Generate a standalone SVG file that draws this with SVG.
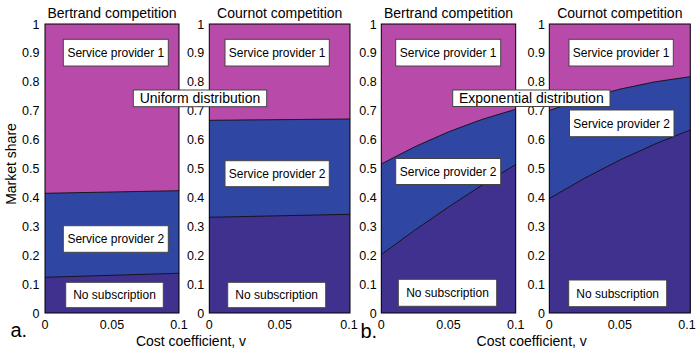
<svg xmlns="http://www.w3.org/2000/svg" width="696" height="353" viewBox="0 0 696 353">
<style>
text{font-family:"Liberation Sans",Arial,sans-serif;fill:#000}
.t{font-size:14px;text-anchor:middle}
.yt{font-size:12.5px;text-anchor:end}
.xt{font-size:12.5px;text-anchor:middle}
.lb{font-size:12px;text-anchor:middle}
.ov{font-size:14px;text-anchor:middle}
.m{fill:#B84AA9}
.b{fill:#2F46A2}
.p{fill:#41318E}
.bd{fill:none;stroke:#111;stroke-width:0.9}
.fr{fill:none;stroke:#000;stroke-width:1}
.box{fill:#fff;stroke:#444;stroke-width:1}
</style>

<g id="panel-a1">
<rect class="m" x="45" y="24" width="134" height="289"/>
<path class="b" d="M45,193.3 L179,190.7 L179,313 L45,313 Z"/>
<path class="p" d="M45,277.3 L179,273.3 L179,313 L45,313 Z"/>
<path class="bd" d="M45,193.3 L179,190.7 M45,277.3 L179,273.3"/>
<rect class="fr" x="45" y="24" width="134" height="289"/>
<text class="t" x="112" y="18">Bertrand competition</text>
<text class="yt" x="39.5" y="317.5">0</text>
<text class="yt" x="39.5" y="288.6">0.1</text>
<text class="yt" x="39.5" y="259.7">0.2</text>
<text class="yt" x="39.5" y="230.8">0.3</text>
<text class="yt" x="39.5" y="201.9">0.4</text>
<text class="yt" x="39.5" y="173">0.5</text>
<text class="yt" x="39.5" y="144.1">0.6</text>
<text class="yt" x="39.5" y="115.2">0.7</text>
<text class="yt" x="39.5" y="86.3">0.8</text>
<text class="yt" x="39.5" y="57.4">0.9</text>
<text class="yt" x="39.5" y="28.5">1</text>
<text class="xt" x="45" y="329">0</text>
<text class="xt" x="112" y="329">0.05</text>
<text class="xt" x="179" y="329">0.1</text>
</g>

<g id="panel-a2">
<rect class="m" x="209.3" y="24" width="140.7" height="289"/>
<path class="b" d="M209.3,120.3 L350,119 L350,313 L209.3,313 Z"/>
<path class="p" d="M209.3,217.3 L350,214.3 L350,313 L209.3,313 Z"/>
<path class="bd" d="M209.3,120.3 L350,119 M209.3,217.3 L350,214.3"/>
<rect class="fr" x="209.3" y="24" width="140.7" height="289"/>
<text class="t" x="279.7" y="18">Cournot competition</text>
<text class="yt" x="204.3" y="317.5">0</text>
<text class="yt" x="204.3" y="288.6">0.1</text>
<text class="yt" x="204.3" y="259.7">0.2</text>
<text class="yt" x="204.3" y="230.8">0.3</text>
<text class="yt" x="204.3" y="201.9">0.4</text>
<text class="yt" x="204.3" y="173">0.5</text>
<text class="yt" x="204.3" y="144.1">0.6</text>
<text class="yt" x="204.3" y="115.2">0.7</text>
<text class="yt" x="204.3" y="86.3">0.8</text>
<text class="yt" x="204.3" y="57.4">0.9</text>
<text class="yt" x="204.3" y="28.5">1</text>
<text class="xt" x="209.3" y="329">0</text>
<text class="xt" x="279.7" y="329">0.05</text>
<text class="xt" x="349" y="329">0.1</text>
</g>

<g id="panel-b1">
<rect class="m" x="381.3" y="24" width="134.4" height="289"/>
<path class="b" d="M381.3,164 Q448.5,127.1 515.7,109.3 L515.7,313 L381.3,313 Z"/>
<path class="p" d="M381.3,254.5 Q448.5,204.5 515.7,164.5 L515.7,313 L381.3,313 Z"/>
<path class="bd" d="M381.3,164 Q448.5,127.1 515.7,109.3 M381.3,254.5 Q448.5,204.5 515.7,164.5"/>
<rect class="fr" x="381.3" y="24" width="134.4" height="289"/>
<text class="t" x="448.5" y="18">Bertrand competition</text>
<text class="yt" x="376.7" y="317.5">0</text>
<text class="yt" x="376.7" y="288.6">0.1</text>
<text class="yt" x="376.7" y="259.7">0.2</text>
<text class="yt" x="376.7" y="230.8">0.3</text>
<text class="yt" x="376.7" y="201.9">0.4</text>
<text class="yt" x="376.7" y="173">0.5</text>
<text class="yt" x="376.7" y="144.1">0.6</text>
<text class="yt" x="376.7" y="115.2">0.7</text>
<text class="yt" x="376.7" y="86.3">0.8</text>
<text class="yt" x="376.7" y="57.4">0.9</text>
<text class="yt" x="376.7" y="28.5">1</text>
<text class="xt" x="381.3" y="329">0</text>
<text class="xt" x="448.5" y="329">0.05</text>
<text class="xt" x="515.7" y="329">0.1</text>
</g>

<g id="panel-b2">
<rect class="m" x="549.3" y="24" width="141" height="289"/>
<path class="b" d="M549.3,110.5 Q619.8,84.7 690.3,76.7 L690.3,313 L549.3,313 Z"/>
<path class="p" d="M549.3,198.5 Q619.8,155.9 690.3,130 L690.3,313 L549.3,313 Z"/>
<path class="bd" d="M549.3,110.5 Q619.8,84.7 690.3,76.7 M549.3,198.5 Q619.8,155.9 690.3,130"/>
<rect class="fr" x="549.3" y="24" width="141" height="289"/>
<text class="t" x="619.8" y="18">Cournot competition</text>
<text class="yt" x="545" y="317.5">0</text>
<text class="yt" x="545" y="288.6">0.1</text>
<text class="yt" x="545" y="259.7">0.2</text>
<text class="yt" x="545" y="230.8">0.3</text>
<text class="yt" x="545" y="201.9">0.4</text>
<text class="yt" x="545" y="173">0.5</text>
<text class="yt" x="545" y="144.1">0.6</text>
<text class="yt" x="545" y="115.2">0.7</text>
<text class="yt" x="545" y="86.3">0.8</text>
<text class="yt" x="545" y="57.4">0.9</text>
<text class="yt" x="545" y="28.5">1</text>
<text class="xt" x="549.3" y="329">0</text>
<text class="xt" x="619.8" y="329">0.05</text>
<text class="xt" x="687" y="329">0.1</text>
</g>

<g id="labels-a1">
<g id="a1-sp1"><rect class="box" x="63.3" y="39.3" width="105" height="26.7"/><text class="lb" x="115.8" y="57">Service provider 1</text></g>
<g id="a1-sp2"><rect class="box" x="63.3" y="225.7" width="105" height="26.6"/><text class="lb" x="115.8" y="243.3">Service provider 2</text></g>
<g id="a1-ns"><rect class="box" x="65.7" y="282.3" width="97.6" height="25.4"/><text class="lb" x="114.5" y="299.3">No subscription</text></g>
</g>
<g id="labels-a2">
<g id="a2-sp1"><rect class="box" x="225" y="39.3" width="104.3" height="26.7"/><text class="lb" x="277.2" y="57">Service provider 1</text></g>
<g id="a2-sp2"><rect class="box" x="225" y="160.7" width="104.3" height="26"/><text class="lb" x="277.2" y="178">Service provider 2</text></g>
<g id="a2-ns"><rect class="box" x="227.7" y="282.3" width="98" height="25.4"/><text class="lb" x="276.7" y="299.3">No subscription</text></g>
</g>
<g id="labels-b1">
<g id="b1-sp1"><rect class="box" x="395.7" y="39.3" width="105" height="26.7"/><text class="lb" x="448.2" y="57">Service provider 1</text></g>
<g id="b1-sp2"><rect class="box" x="395.7" y="158.5" width="105" height="26"/><text class="lb" x="448.2" y="175.8">Service provider 2</text></g>
<g id="b1-ns"><rect class="box" x="398.3" y="279.3" width="98.4" height="27"/><text class="lb" x="447.5" y="297.1">No subscription</text></g>
</g>
<g id="labels-b2">
<g id="b2-sp1"><rect class="box" x="569" y="39.3" width="104.3" height="26.7"/><text class="lb" x="621.2" y="57">Service provider 1</text></g>
<g id="b2-sp2"><rect class="box" x="569.5" y="110" width="104.5" height="26.7"/><text class="lb" x="621.7" y="127.7">Service provider 2</text></g>
<g id="b2-ns"><rect class="box" x="568.7" y="280" width="98" height="26.7"/><text class="lb" x="617.7" y="297.6">No subscription</text></g>
</g>

<g id="uniform-label"><rect class="box" x="133.3" y="90" width="133.4" height="16.7"/><text class="ov" x="200" y="103.4">Uniform distribution</text></g>
<g id="exponential-label"><rect class="box" x="452.7" y="90" width="157.3" height="16.5"/><text class="ov" x="531.3" y="103.4">Exponential distribution</text></g>

<g id="axis-labels">
<text class="t" x="191" y="345.5">Cost coefficient, v</text>
<text class="t" x="531.7" y="345.5">Cost coefficient, v</text>
<text class="t" transform="translate(15.5,164) rotate(-90)">Market share</text>
<text x="10.5" y="336.5" style="font-size:20px">a.</text>
<text x="360.5" y="337.5" style="font-size:20px">b.</text>
</g>
<g id="connectors"/>
</svg>
